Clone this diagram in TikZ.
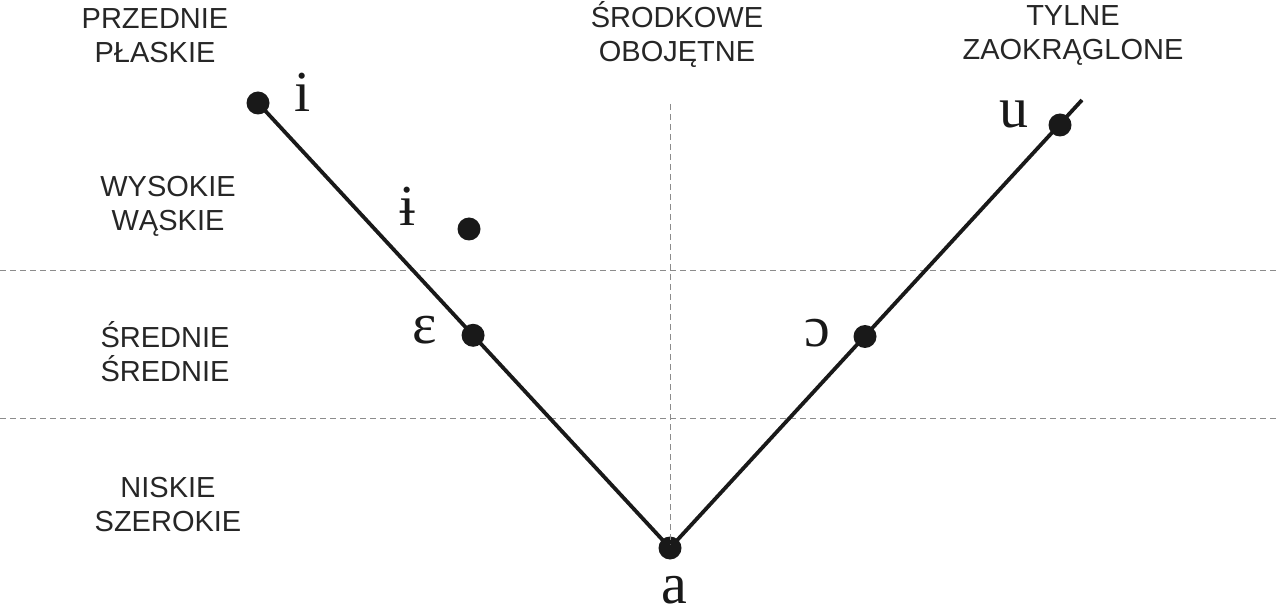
\documentclass[tikz,border=0pt]{standalone}
\usepackage{fontspec}
\setmainfont{Liberation Serif}
\newfontfamily\lab{Liberation Sans}
\begin{document}
\begin{tikzpicture}[x=1pt,y=-1pt,
  dot/.style={circle,fill=black!90,inner sep=0pt,minimum size=23pt},
  grid/.style={draw=black!45,line width=0.9pt,dash pattern=on 6pt off 4pt},
  vline/.style={line width=3.8pt,black!90},
  cat/.style={align=center,font=\lab\fontsize{29}{34}\selectfont,text=black!85,inner sep=0pt},
  ipa/.style={font=\fontsize{58}{60}\selectfont,inner sep=0pt,text=black!90}]
\useasboundingbox (0,0) rectangle (1280,612);
% grid
\coordinate (hl1) at (0,270); \coordinate (hr1) at (1280,270);
\coordinate (hl2) at (0,418); \coordinate (hr2) at (1280,418);
\coordinate (vt) at (670,104);
\draw[grid] (hl1) -- (hr1);
\draw[grid] (hl2) -- (hr2);
% dots
\node[dot] (a) at (670,548) {};
\node[dot] (i) at (258,103) {};
\node[dot] (u) at (1060,125) {};
\coordinate (uend) at (1082,100);
\draw[grid] (vt) -- (a.center);
\draw[vline] (i.center) -- (a.center) -- (uend);
\path (a.center) -- (i.center) node[dot,pos=0.478] (e) {};
\path (a.center) -- (u.center) node[dot,pos=0.5] (o) {};
\node[dot] (y) at (469,229) {};
% ipa labels
\node[ipa,anchor=base] (li) at (303,112) {i};
\node[ipa,anchor=base] (ly) at (408,226) {ɨ};
\node[ipa,anchor=base] (le) at (425,344) {ɛ};
\node[ipa,anchor=base] (lo) at (817,347) {ɔ};
\node[ipa,anchor=base] (lu) at (1014,128) {u};
\node[ipa,anchor=base] (la) at (674,603) {a};
% category labels
\node[cat] (c1) at (155,36) {PRZEDNIE\\PŁASKIE};
\node[cat] (c2) at (677,35) {ŚRODKOWE\\OBOJĘTNE};
\node[cat] (c3) at (1073,35) {TYLNE\\ZAOKRĄGLONE};
\node[cat] (r1) at (168,206) {WYSOKIE\\WĄSKIE};
\node[cat] (r2) at (165,352) {ŚREDNIE\\ŚREDNIE};
\node[cat] (r3) at (168,505) {NISKIE\\SZEROKIE};
\end{tikzpicture}
\end{document}
